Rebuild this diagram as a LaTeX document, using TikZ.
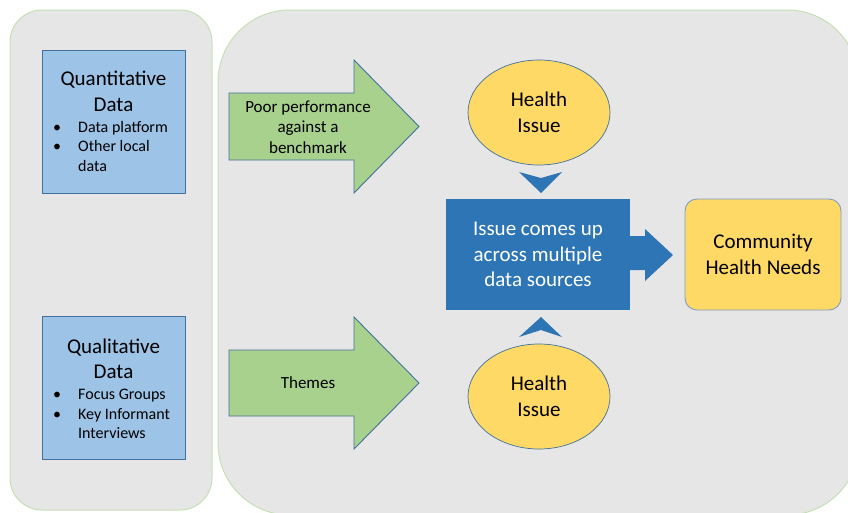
\documentclass[tikz,border=0pt]{standalone}
\usepackage{fontspec}
\setmainfont{Carlito}
\usetikzlibrary{shapes.geometric}
\definecolor{panelfill}{HTML}{E7E6E6}
\definecolor{panelline}{HTML}{C5E0B4}
\definecolor{boxblue}{HTML}{9DC3E6}
\definecolor{edgeblue}{HTML}{41719C}
\definecolor{arrowgreen}{HTML}{A9D18E}
\definecolor{healthgold}{HTML}{FFD966}
\definecolor{deepblue}{HTML}{2E75B6}
\definecolor{softedge}{HTML}{7F9DC4}
\newcommand\fsbig{\fontsize{21}{25.5}\selectfont}
\newcommand\fsmid{\fontsize{17}{20.5}\selectfont}
\newcommand\fssmall{\fontsize{16}{19.5}\selectfont}
\newcommand\bul{\makebox[25pt][l]{\textbullet}}
\begin{document}
\begin{tikzpicture}[x=1pt,y=-1pt,
  panel/.style={fill=panelfill,draw=panelline,line width=1pt},
  databox/.style={rectangle,fill=boxblue,draw=edgeblue,line width=0.9pt,minimum width=143pt,minimum height=143pt,inner sep=0pt},
  greenarrow/.style={fill=arrowgreen,draw=edgeblue,line width=0.9pt,line join=miter},
  health/.style={ellipse,fill=healthgold,draw=edgeblue,line width=0.7pt,minimum width=142pt,minimum height=105pt,inner sep=0pt,align=center,font=\fsbig},
  issuebox/.style={rectangle,fill=deepblue,minimum width=184pt,minimum height=111pt,inner sep=0pt,align=center,text=white,font=\fsbig},
  needsbox/.style={rectangle,rounded corners=12pt,fill=healthgold,draw=softedge,line width=0.9pt,minimum width=156pt,minimum height=111pt,inner sep=0pt,align=center,font=\fsbig},
  chev/.style={fill=deepblue},
  title/.style={inner sep=0pt,align=center,font=\fsbig},
  bullets/.style={inner sep=0pt,align=left,anchor=west,font=\fssmall},
  arrowtext/.style={inner sep=0pt,align=center,font=\fsmid}]
\clip (0,0) rectangle (848,512);
\fill[white] (0,0) rectangle (848,512);
% panels
\draw[panel,rounded corners=32pt] (10,10) rectangle (212,510);
\draw[panel,rounded corners=72pt] (218,10) rectangle (859,515);
% data boxes
\node[databox] (quant) at (113.5,121.5) {};
\node[title] (quanttitle) at (113.5,91.5) {Quantitative\\Data};
\node[bullets] (quantlist) at (53,146) {\bul Data platform\\\bul Other local\\\hspace*{25pt}data};
\node[databox] (qual) at (113.5,388) {};
\node[title] (qualtitle) at (113.5,359) {Qualitative\\Data};
\node[bullets] (quallist) at (53,414) {\bul Focus Groups\\\bul Key Informant\\\hspace*{25pt}Interviews};
% green arrows
\draw[greenarrow] (229,93) -- (354,93) -- (354,60) -- (419,126.5) -- (354,193) -- (354,160) -- (229,160) -- cycle;
\node[arrowtext] (poor) at (308,127) {Poor performance\\against a\\benchmark};
\draw[greenarrow] (229,350) -- (354,350) -- (354,317) -- (419,383) -- (354,449) -- (354,416) -- (229,416) -- cycle;
\node[arrowtext] (themes) at (308,383) {Themes};
% health issues
\node[health] (h1) at (539,112.5) {Health\\Issue};
\node[health] (h2) at (539,396.5) {Health\\Issue};
% central box
\node[issuebox] (issue) at (538,254.5) {Issue comes up\\across multiple\\data sources};
\fill[deepblue] (629,236) -- (645,236) -- (645,229) -- (673,255) -- (645,281) -- (645,270) -- (629,270) -- cycle;
\node[needsbox] (needs) at (763,254.5) {Community\\Health Needs};
% chevrons
\fill[chev] (519,172) -- (541,178) -- (562,172) -- (541,193) -- cycle;
\fill[chev] (519,337) -- (541,330) -- (562,337) -- (541,317) -- cycle;
\end{tikzpicture}
\end{document}
